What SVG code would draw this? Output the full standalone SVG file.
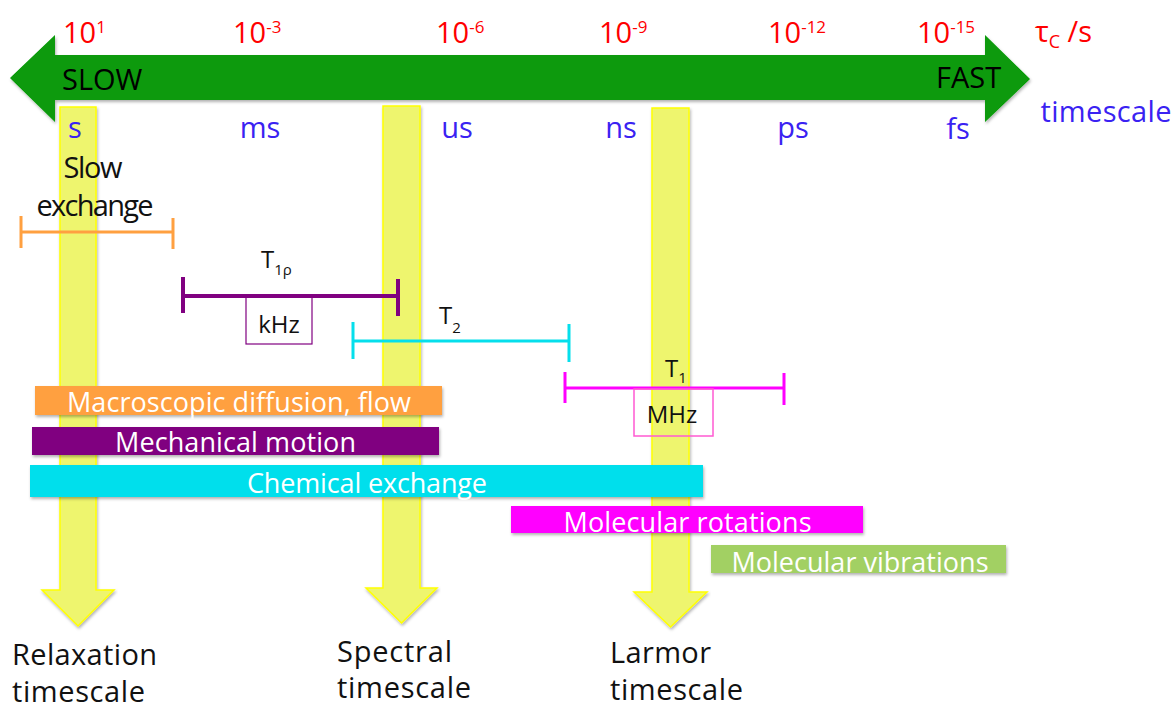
<svg xmlns="http://www.w3.org/2000/svg" width="1176" height="708" viewBox="0 0 1176 708">
  <defs>
    <filter id="shadow" x="-5%" y="-20%" width="110%" height="160%">
      <feDropShadow dx="1" dy="2" stdDeviation="1.5" flood-color="#000" flood-opacity="0.3"/>
    </filter>
  </defs>
  <style>
    text { font-family: "Open Sans", "Liberation Sans", sans-serif; }
    .exp { fill: #ff0000; font-size: 29px; }
    .unit { fill: #3a22f2; font-size: 29px; text-anchor: middle; }
    .dir { fill: #000; font-size: 29px; }
    .lbl { fill: #111; font-size: 29px; }
    .band { fill: #fff; font-size: 27px; text-anchor: middle; }
    .tag { fill: #111; font-size: 24px; }
    .yel { fill: #eef56e; stroke: #ffff00; stroke-width: 1.5; filter: url(#shadow); }
    .bar { filter: url(#shadow); }
    .rng { fill: none; stroke-linecap: butt; }
  </style>

  <rect width="1176" height="708" fill="#fff"/>

  <!-- time axis: slow to fast -->
  <g id="axis">
    <path d="M10,78 L55,35 L55,55 L985,55 L985,35 L1030,79 L985,122 L985,100 L55,100 L55,122 Z" fill="#079a07" filter="url(#shadow)"/>
    <text class="dir" x="62" y="90">SLOW</text>
    <text class="dir" x="936" y="88">FAST</text>
  </g>

  <!-- correlation times -->
  <g id="tau-scale">
    <text class="exp" x="63" y="43">10<tspan font-size="17" dy="-10">1</tspan></text>
    <text class="exp" x="233" y="43">10<tspan font-size="17" dy="-10">-3</tspan></text>
    <text class="exp" x="436" y="43">10<tspan font-size="17" dy="-10">-6</tspan></text>
    <text class="exp" x="599" y="43">10<tspan font-size="17" dy="-10">-9</tspan></text>
    <text class="exp" x="768" y="43">10<tspan font-size="17" dy="-10">-12</tspan></text>
    <text class="exp" x="917" y="43">10<tspan font-size="17" dy="-10">-15</tspan></text>
    <text class="exp" x="1035" y="42">τ<tspan font-size="18" dy="6">C</tspan><tspan dy="-6"> /s</tspan></text>
  </g>

  <!-- characteristic NMR timescales -->
  <g id="relaxation-timescale">
    <path class="yel" d="M60,107 H96 V590 H114 L78,626 L42,590 H60 Z"/>
  </g>
  <g id="spectral-timescale">
    <path class="yel" d="M383,106 H420 V588 H437 L401.5,623 L366,588 H383 Z"/>
  </g>
  <g id="larmor-timescale">
    <path class="yel" d="M652,108 H689 V592 H707 L670.5,627 L634,592 H652 Z"/>
  </g>

  <!-- timescale units -->
  <g id="units">
    <text class="unit" x="75" y="138">s</text>
    <text class="unit" x="260" y="138">ms</text>
    <text class="unit" x="457" y="138">us</text>
    <text class="unit" x="621" y="138">ns</text>
    <text class="unit" x="793" y="138">ps</text>
    <text class="unit" x="958" y="139">fs</text>
    <text class="unit" x="1106" y="122" textLength="131">timescale</text>
  </g>

  <!-- measurable ranges -->
  <g id="connectors">
    <g id="slow-exchange" stroke="#ffa040" stroke-width="3" class="rng">
      <path d="M21,232 H173 M21,216 V248 M173,218 V249"/>
    </g>
    <g id="t1rho" stroke="#800080" stroke-width="4" class="rng">
      <path d="M183,296 H398 M183,277 V313 M398,279 V316"/>
    </g>
    <g id="t2" stroke="#05dfec" stroke-width="3" class="rng">
      <path d="M353,341 H569 M353,322 V359 M569,324 V362"/>
    </g>
    <g id="t1" stroke="#ff00ff" stroke-width="3" class="rng">
      <path d="M565,388 H784 M565,372 V403 M784,373 V405"/>
    </g>
  </g>

  <g id="slow-exchange-label">
    <text class="lbl" x="93" y="178" text-anchor="middle" font-size="23" textLength="59">Slow</text>
    <text class="lbl" x="95" y="216" text-anchor="middle" font-size="24" textLength="117">exchange</text>
  </g>
  <g id="t1rho-label">
    <text class="tag" x="261" y="268">T<tspan font-size="15" dy="7">1ρ</tspan></text>
    <rect x="246" y="297" width="66" height="47" fill="none" stroke="#800080" stroke-width="1.2"/>
    <text class="tag" x="279" y="333" text-anchor="middle">kHz</text>
  </g>
  <g id="t2-label">
    <text class="tag" x="439" y="324">T<tspan font-size="15" dy="9">2</tspan></text>
  </g>
  <g id="t1-label">
    <text class="tag" x="665" y="377">T<tspan font-size="15" dy="6">1</tspan></text>
    <rect x="634" y="389" width="79" height="47" fill="none" stroke="#ff5ad2" stroke-width="1.5"/>
    <text class="tag" x="672" y="423" text-anchor="middle" font-size="25">MHz</text>
  </g>

  <!-- motional processes -->
  <g id="macroscopic-diffusion">
    <rect class="bar" x="35" y="386" width="407" height="29" fill="#ffa040"/>
    <text class="band" x="239" y="412" textLength="344">Macroscopic diffusion, flow</text>
  </g>
  <g id="mechanical-motion">
    <rect class="bar" x="32" y="427" width="407" height="28" fill="#800080"/>
    <text class="band" x="235.5" y="452" textLength="241">Mechanical motion</text>
  </g>
  <g id="chemical-exchange">
    <rect class="bar" x="30" y="465" width="673" height="32" fill="#05dfec"/>
    <text class="band" x="367" y="493" textLength="240">Chemical exchange</text>
  </g>
  <g id="molecular-rotations">
    <rect class="bar" x="511" y="506" width="352" height="27" fill="#ff00ff"/>
    <text class="band" x="687.5" y="532" textLength="248">Molecular rotations</text>
  </g>
  <g id="molecular-vibrations">
    <rect class="bar" x="711" y="545" width="295" height="28" fill="#a2d064"/>
    <text class="band" x="860" y="572" textLength="257">Molecular vibrations</text>
  </g>

  <!-- timescale captions -->
  <g id="captions">
    <text class="lbl" x="12" y="665" textLength="145">Relaxation</text>
    <text class="lbl" x="12" y="702" textLength="133">timescale</text>
    <text class="lbl" x="337" y="662" textLength="115">Spectral</text>
    <text class="lbl" x="337" y="698" textLength="134">timescale</text>
    <text class="lbl" x="610" y="663" textLength="101">Larmor</text>
    <text class="lbl" x="610" y="700" textLength="133">timescale</text>
  </g>
</svg>
